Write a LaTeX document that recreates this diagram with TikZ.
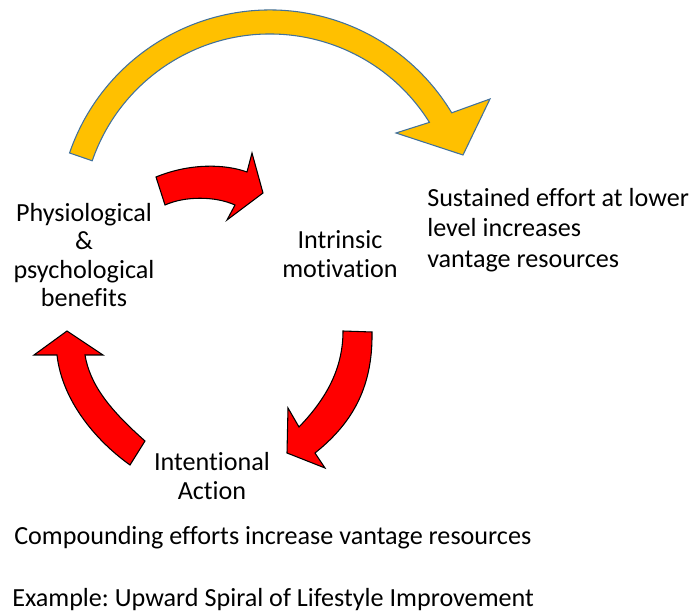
\documentclass[tikz,border=0pt]{standalone}
\usepackage{fontspec}
\setmainfont{Carlito}[Ligatures=NoCommon]
\usetikzlibrary{calc}
\definecolor{gold}{RGB}{255,192,0}
\definecolor{goldedge}{RGB}{65,113,156}
\frenchspacing
\begin{document}
\begin{tikzpicture}[x=0.75pt,y=-0.75pt,
	redarrow/.style={fill=red,draw=black,line width=0.8pt},
	goldarrow/.style={fill=gold,draw=goldedge,line width=0.8pt},
	txt/.style={inner sep=0pt,font=\fontsize{19.6}{21.3}\selectfont}]
	\useasboundingbox (0,0) rectangle (694,616);
	%Mui ten vang
	\coordinate (c) at (270,222);
	\draw[goldarrow] ($(c)+(-161:212)$) arc[start angle=-161,end angle=-31,radius=212]
		-- (490,99) -- (463,155) -- (396,133) -- ($(c)+(-32:188)$)
		arc[start angle=-32,end angle=-161,radius=188] -- cycle;
	%Mui ten do 1
	\draw[redarrow] (156,177) .. controls (190,163) and (225,164) .. (247,172)
		-- (252,153) -- (263,193) -- (227,220) -- (235,205)
		.. controls (215,196) and (185,196) .. (165,205) -- cycle;
	%Mui ten do 2
	\draw[redarrow] (343,331) -- (372,332) .. controls (373,390) and (350,425) .. (315,453)
		-- (325,468) -- (287,453) -- (288,408) -- (299,427)
		.. controls (325,400) and (343,370) .. (343,331) -- cycle;
	%Mui ten do 3
	\draw[redarrow] (130,465) -- (145,441) .. controls (110,410) and (90,385) .. (85,355)
		-- (103,355) -- (67,331) -- (34,355) -- (57,355)
		.. controls (62,400) and (95,440) .. (130,465) -- cycle;
	%Chu
	\node[txt,align=center] (phys) at (84,255) {Physiological\\\&\\psychological\\benefits};
	\node[txt,align=center] (intr) at (340,254) {Intrinsic\\motivation};
	\node[txt,align=left,anchor=west,font=\fontsize{19.6}{22.9}\selectfont] (sust) at (427,230)
		{Sustained effort at lower\\level increases\\vantage resources};
	\node[txt,align=center] (inten) at (212,476) {Intentional\\Action};
	\node[txt,anchor=west] (comp) at (14,538) {Compounding efforts increase vantage resources};
	\node[txt,anchor=west] (exam) at (12,600) {Example: Upward Spiral of Lifestyle Improvement};
\end{tikzpicture}
\end{document}
